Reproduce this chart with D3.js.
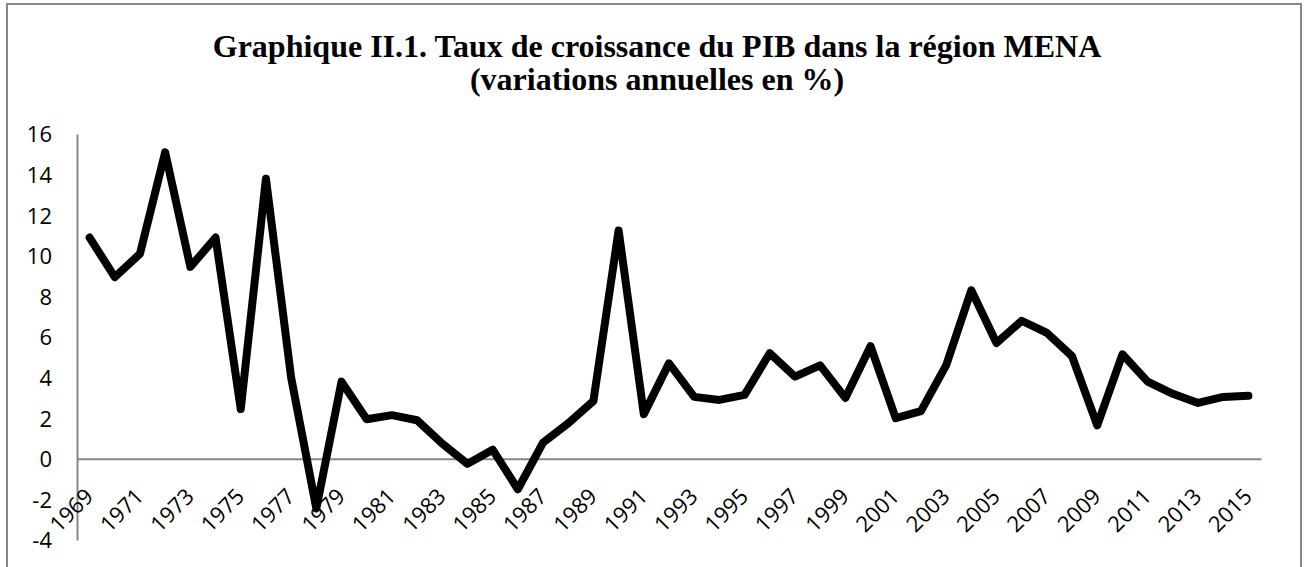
<!DOCTYPE html>
<html>
<head>
<meta charset="utf-8">
<script src="https://cdn.jsdelivr.net/npm/d3@7"></script>
<style>
  body { margin: 0; background: #fff; }
  .chartTitle { font-family: "Liberation Serif", "Times New Roman", serif; font-weight: bold; font-size: 32px; fill: #000; }
</style>
</head>
<body>
<div id="chart"></div>
<script>
// data
var YEARS = d3.range(1969, 2016).map(String);
var GROWTH = [10.9, 8.95, 10.1, 15.1, 9.45, 10.9, 2.45, 13.8, 4.0, -2.45,
              3.8, 1.95, 2.15, 1.9, 0.75, -0.25, 0.45, -1.5, 0.8, 1.75,
              2.85, 11.25, 2.2, 4.7, 3.05, 2.9, 3.15, 5.2, 4.05, 4.6,
              3.0, 5.55, 2.0, 2.35, 4.6, 8.3, 5.7, 6.8, 6.2, 5.05,
              1.65, 5.15, 3.8, 3.2, 2.75, 3.05, 3.1];
var Y_TICKS = [-4, -2, 0, 2, 4, 6, 8, 10, 12, 14, 16];
var TITLE_LINES = ["Graphique II.1. Taux de croissance du PIB dans la région MENA",
                   "(variations annuelles en %)"];

function plotChart() {
  var W = 1306, H = 567;
  var margin = {top: 134, right: 45, bottom: 28, left: 77};
  var width = W - margin.left - margin.right;
  var tickFont = "\"Open Sans\", sans-serif";

  var svg = d3.select("#chart")
              .append("svg")
                .attr("width", W)
                .attr("height", H);

  // outer frame of the chart (bottom edge falls outside the picture)
  svg.append("rect")
      .attr("x", 7)
      .attr("y", 4)
      .attr("width", 1294)
      .attr("height", 600)
      .attr("fill", "#fff")
      .attr("stroke", "#878787")
      .attr("stroke-width", 2);

  // title
  svg.append("text")
      .attr("class", "chartTitle")
      .attr("text-anchor", "middle")
      .selectAll("tspan")
      .data(TITLE_LINES)
      .enter()
      .append("tspan")
        .attr("x", 657)
        .attr("y", function(d, i) { return 57 + i * 33; })
        .text(function(d) { return d; });

  var g = svg.append("g")
             .attr("transform", "translate(" + margin.left + "," + margin.top + ")");

  // scales
  var x = d3.scaleBand()
            .domain(YEARS)
            .range([0, width]);
  var y = d3.scaleLinear()
            .domain([-4, 16])
            .range([406, 0]);

  // y axis: labels only, plain grey line
  var yAxis = g.append("g")
      .call(d3.axisLeft(y)
              .tickValues(Y_TICKS)
              .tickFormat(function(d) { return String(d); })
              .tickSize(0)
              .tickPadding(25));
  yAxis.select(".domain")
      .attr("stroke", "#868686")
      .attr("stroke-width", 2);
  yAxis.selectAll("text")
      .style("font-family", tickFont)
      .style("font-size", "22px")
      .attr("fill", "#000")
      .attr("dy", "0.36em");

  // x axis drawn along zero
  var xAxis = g.append("g")
      .attr("transform", "translate(0," + y(0) + ")")
      .call(d3.axisBottom(x)
              .tickValues(YEARS.filter(function(d, i) { return i % 2 == 0; }))
              .tickSize(0)
              .tickSizeOuter(0));
  xAxis.select(".domain")
      .attr("stroke", "#868686")
      .attr("stroke-width", 2);
  xAxis.selectAll("text")
      .style("font-family", tickFont)
      .style("font-size", "22px")
      .attr("fill", "#000")
      .attr("y", 0)
      .attr("dy", 0)
      .style("text-anchor", "end")
      .attr("transform", "translate(5,39) rotate(-45)");

  // the growth line
  var line = d3.line()
               .x(function(d, i) { return x(YEARS[i]) + x.bandwidth() / 2; })
               .y(function(d) { return y(d); });

  g.append("path")
      .datum(GROWTH)
      .attr("fill", "none")
      .attr("stroke", "#000")
      .attr("stroke-width", 8)
      .attr("stroke-linejoin", "round")
      .attr("stroke-linecap", "round")
      .attr("d", line);
}

plotChart();
</script>
</body>
</html>
